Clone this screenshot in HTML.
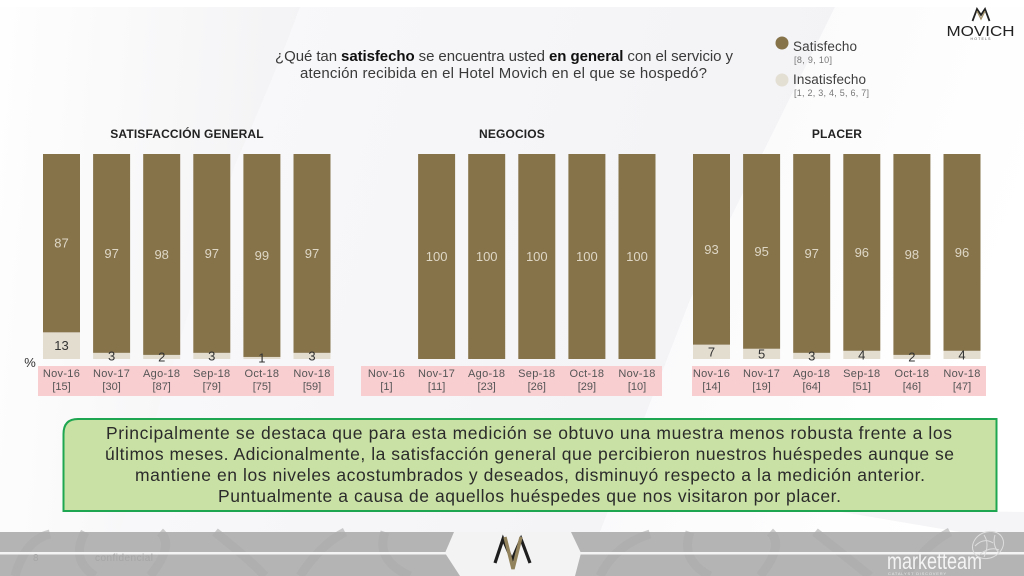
<!DOCTYPE html>
<html lang="es">
<head>
<meta charset="utf-8">
<title>Satisfacción general - Hotel Movich</title>
<style>
html,body{margin:0;padding:0;background:#fff;}
#stage{display:block;width:1024px;height:576px;font-family:"Liberation Sans","DejaVu Sans",sans-serif;}
</style>
</head>
<body>
<svg id="stage" xmlns="http://www.w3.org/2000/svg" width="1024" height="576" viewBox="0 0 1024 576">
  <defs>
    <linearGradient id="bgA" x1="0" y1="0" x2="1" y2="0.15">
      <stop offset="0" stop-color="#fefefe"/>
      <stop offset="1" stop-color="#f3f3f5"/>
    </linearGradient>
    <linearGradient id="bgB" x1="0" y1="0" x2="1" y2="0.2">
      <stop offset="0" stop-color="#f9f9fb"/>
      <stop offset="1" stop-color="#f3f3f6"/>
    </linearGradient>
    <linearGradient id="bgC" x1="0" y1="0" x2="1" y2="0.4">
      <stop offset="0" stop-color="#f8f8fa"/>
      <stop offset="1" stop-color="#ffffff"/>
    </linearGradient>
  </defs>
  <g>
    <rect width="1024" height="576" fill="#f8f8fa"/>
    <path d="M0 7 H300 Q275 75 235 165 L120 532 H0 Z" fill="url(#bgA)"/>
    <path d="M300 7 H835 L690 300 L600 532 H120 L235 165 Q275 75 300 7 Z" fill="url(#bgB)"/>
    <path d="M835 7 H1024 V532 H600 L690 300 Z" fill="url(#bgC)"/>
    <path d="M830 510 L1024 512 V532 H960 Z" fill="#f5f5f7"/>
    <rect x="0" y="0" width="1024" height="7" fill="#ffffff"/>
  </g>

  <g fill="#3a3a3a" font-size="15" text-anchor="middle">
    <text x="504" y="61" textLength="458" lengthAdjust="spacing">¿Qué tan <tspan font-weight="bold" fill="#111">satisfecho</tspan> se encuentra usted <tspan font-weight="bold" fill="#111">en general</tspan> con el servicio y</text>
    <text x="503.5" y="78" textLength="407" lengthAdjust="spacing">atención recibida en el Hotel Movich en el que se hospedó?</text>
  </g>

  <g>
    <circle cx="782" cy="43" r="6.5" fill="#86734a"/>
    <text x="793" y="51" font-size="13.5" fill="#3f3f3f" textLength="64" lengthAdjust="spacing">Satisfecho</text>
    <text x="794" y="63" font-size="9" fill="#777" textLength="38" lengthAdjust="spacing">[8, 9, 10]</text>
    <circle cx="782" cy="80" r="6.5" fill="#e4dfd3"/>
    <text x="793" y="84" font-size="13.5" fill="#3f3f3f" textLength="73" lengthAdjust="spacing">Insatisfecho</text>
    <text x="794" y="96" font-size="9" fill="#777" textLength="75" lengthAdjust="spacing">[1, 2, 3, 4, 5, 6, 7]</text>
  </g>

  <g>
    <path d="M972.5 21 L977 9 L981 15 L985 9 L989.5 21" fill="none" stroke="#222" stroke-width="1.8"/>
    <path d="M977 11 L981 19 L985 11" fill="none" stroke="#a08f66" stroke-width="1.3"/>
    <text x="980.5" y="36" font-size="15" text-anchor="middle" fill="#222" textLength="68" lengthAdjust="spacingAndGlyphs">MOVICH</text>
    <text x="980.5" y="40" font-size="3.5" text-anchor="middle" fill="#555" textLength="20" lengthAdjust="spacing">HOTELS</text>
  </g>

  <g id="charts"></g>

  <text x="30" y="367" font-size="13" text-anchor="middle" fill="#333">%</text>

  <g>
    <path d="M78 419 H996.5 V511 H63.5 V434 Q63.5 419 78 419 Z" fill="#c9e1a4" stroke="#1fa651" stroke-width="2"/>
    <g font-size="17.5" fill="#2b2b2b" text-anchor="middle">
      <text x="529" y="439" textLength="846" lengthAdjust="spacing">Principalmente se destaca que para esta medición se obtuvo una muestra menos robusta frente a los</text>
      <text x="529.5" y="460" textLength="849" lengthAdjust="spacing">últimos meses. Adicionalmente, la satisfacción general que percibieron nuestros huéspedes aunque se</text>
      <text x="530" y="481" textLength="790" lengthAdjust="spacing">mantiene en los niveles acostumbrados y deseados, disminuyó respecto a la medición anterior.</text>
      <text x="529.5" y="502" textLength="623" lengthAdjust="spacing">Puntualmente a causa de aquellos huéspedes que nos visitaron por placer.</text>
    </g>
  </g>

  <g>
    <rect x="0" y="532" width="1024" height="44" fill="#b4b4b4"/>
    <g fill="none" stroke="#ababab" stroke-width="9" opacity="0.6">
      <path d="M15 576 Q25 540 50 534 M85 532 Q70 560 95 576 M150 576 Q175 545 160 532 M215 532 Q250 560 265 576 M300 576 Q320 545 345 532 M385 532 Q375 560 410 576"/>
      <path d="M600 576 Q615 545 650 534 M690 532 Q680 560 710 576 M760 576 Q785 545 770 532 M815 532 Q850 560 870 576 M905 576 Q925 545 950 532"/>
    </g>
    <rect x="0" y="552" width="1024" height="2.5" fill="#f4f4f4"/>
    <path d="M454 532 H571 L581 553 L575 576 H460 L445 553 Z" fill="#f3f3f4"/>
    <g fill="none">
      <path d="M495 563 L503 539 L512 560 L521 539 L530 563" stroke="#1e1e1e" stroke-width="3.2"/>
      <path d="M505 537 L513 569 L521 537" stroke="#93835c" stroke-width="3.4"/>
    </g>
    <text x="33" y="561" font-size="10" fill="#a6a6a6">8</text>
    <text x="95" y="561" font-size="10" fill="#a6a6a6" textLength="58" lengthAdjust="spacing">confidencial</text>
    <text x="887" y="569" font-size="23" fill="#f4f4f4" textLength="95" lengthAdjust="spacingAndGlyphs">marketteam</text>
    <text x="888" y="575" font-size="4" fill="#e8e8e8" textLength="58" lengthAdjust="spacing">CATALYST DISCOVERY</text>
    <g fill="none" stroke="#dedede" stroke-width="1">
      <ellipse cx="988" cy="545" rx="16" ry="13" transform="rotate(-25 988 545)"/>
      <path d="M975 546 Q984 537 993 543 M979 555 Q990 546 999 550 M984 535 Q990 544 984 557 M995 535 Q992 545 999 553"/>
    </g>
  </g>
</svg>
<script>
var panelTitles = ["SATISFACCIÓN GENERAL", "NEGOCIOS", "PLACER"];
var periods = ["Nov-16", "Nov-17", "Ago-18", "Sep-18", "Oct-18", "Nov-18"];
var satisfiedGeneral = [87, 97, 98, 97, 99, 97];
var unsatisfiedGeneral = [13, 3, 2, 3, 1, 3];
var sampleGeneral = [15, 30, 87, 79, 75, 59];
var satisfiedBusiness = [null, 100, 100, 100, 100, 100];
var unsatisfiedBusiness = [null, 0, 0, 0, 0, 0];
var sampleBusiness = [1, 11, 23, 26, 29, 10];
var satisfiedLeisure = [93, 95, 97, 96, 98, 96];
var unsatisfiedLeisure = [7, 5, 3, 4, 2, 4];
var sampleLeisure = [14, 19, 64, 51, 46, 47];

(function () {
  var NS = "http://www.w3.org/2000/svg";
  var root = document.getElementById("charts");
  var plotTop = 154, plotBottom = 359, barWidth = 37, barStep = 50.1;
  var panels = [
    { key: "general", left: 43, bandX: 38, bandW: 296, titleX: 187, sat: satisfiedGeneral, uns: unsatisfiedGeneral, n: sampleGeneral },
    { key: "negocios", left: 368, bandX: 361, bandW: 301, titleX: 512, sat: satisfiedBusiness, uns: unsatisfiedBusiness, n: sampleBusiness },
    { key: "placer", left: 693, bandX: 692, bandW: 294, titleX: 837, sat: satisfiedLeisure, uns: unsatisfiedLeisure, n: sampleLeisure }
  ];
  function yScale(value) { return plotBottom - (value / 100) * (plotBottom - plotTop); }
  function xScale(panel, i) { return panel.left + i * barStep; }
  function make(tag, attrs, parent, text) {
    var el = document.createElementNS(NS, tag);
    for (var k in attrs) { el.setAttribute(k, attrs[k]); }
    if (text !== undefined) { el.textContent = text; }
    parent.appendChild(el);
    return el;
  }
  panels.forEach(function (panel, p) {
    var g = make("g", {}, root);
    
    

    var title = make("text", { x: panel.titleX, y: 138, "font-size": 12, "font-weight": "bold", "text-anchor": "middle", fill: "#222", "letter-spacing": "0.15" }, g, panelTitles[p]);
    
    

    var band = make("rect", { x: panel.bandX, y: 366, width: panel.bandW, height: 30, fill: "#f8ced1" }, g);
    
    

    periods.forEach(function (period, i) {
      var x = xScale(panel, i), cx = x + barWidth / 2;
      var sat = panel.sat[i], uns = panel.uns[i];
      if (sat !== null) {
        var total = sat + uns;
        if (uns > 0) {
          var insat = make("rect", { x: x, y: yScale(uns), width: barWidth, height: plotBottom - yScale(uns), fill: "#e3ddd0" }, g);
          
          
        }
        var satBar = make("rect", { x: x, y: yScale(total), width: barWidth, height: yScale(uns) - yScale(total), fill: "#86734a" }, g);
        
        

        var satLabel = make("text", { x: cx, y: (yScale(total) + yScale(uns)) / 2 + 4.5, "font-size": 13, "text-anchor": "middle", fill: "#ded7c6" }, g, String(sat));
        
        

        if (uns > 0) {
          var unsLabel = make("text", { x: cx, y: (yScale(uns) + plotBottom) / 2 + 4.5, "font-size": 13, "text-anchor": "middle", fill: "#333" }, g, String(uns));
          
          
        }
      }
      var tick = make("text", { x: cx, y: 377, "font-size": 11, "text-anchor": "middle", fill: "#555", "letter-spacing": "0.3" }, g, period);
      
      

      var base = make("text", { x: cx, y: 390, "font-size": 11, "text-anchor": "middle", fill: "#555" }, g, "[" + panel.n[i] + "]");
      
      
    });
  });
})();
</script>
</body>
</html>
